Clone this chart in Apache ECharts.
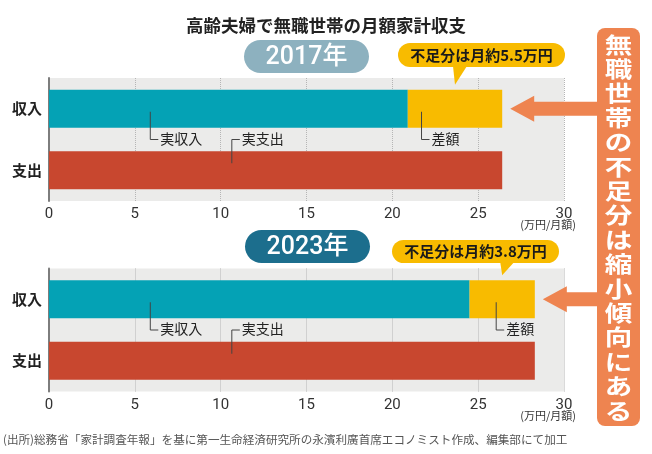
<!DOCTYPE html>
<html>
<head>
<meta charset="utf-8">
<title>高齢夫婦で無職世帯の月額家計収支</title>
<script src="https://cdn.jsdelivr.net/npm/echarts@6/dist/echarts.min.js"></script>
<style>
    html, body { margin: 0; padding: 0; background: #fff; }
    #chart { width: 652px; height: 454px; }
</style>
</head>
<body>
<div id="chart"></div>
<script>
    // 数値は 万円/月額
    var years = ['2017年', '2023年'];
    var categories = ['収入', '支出'];
    var actualIncome = [20.9, 24.5];     // 実収入
    var shortfall = [5.5, 3.8];          // 差額
    var actualSpending = [26.4, 28.3];   // 実支出
    var shortfallText = ['不足分は月約5.5万円', '不足分は月約3.8万円'];
    var xTicks = [0, 5, 10, 15, 20, 25, 30];
    // 引き出し線の位置（x軸の値）
    var noteIncomeX = [5.9, 5.9];
    var noteSpendX = [10.65, 10.65];
    var noteGapX = [21.7, 26.05];
    var headline = '無職世帯の不足分は縮小傾向にある';

    var FONT = "'Noto Sans CJK JP', sans-serif";
    var gridTops = [78, 268.5];
    var pillColors = ['#8db1bf', '#1c6e8d'];

    var myChart = echarts.init(document.getElementById('chart'));

    var grids = [], xAxes = [], yAxes = [], series = [];
    years.forEach(function (year, i) {
        grids.push({
            left: 49, width: 515, top: gridTops[i], height: 123,
            show: true, backgroundColor: '#ebebea', borderWidth: 0
        });
        xAxes.push({
            type: 'value', gridIndex: i,
            min: xTicks[0], max: xTicks[xTicks.length - 1], interval: xTicks[1] - xTicks[0],
            axisLine: {show: false},
            axisTick: {show: false},
            axisLabel: {color: '#333', fontSize: 15, fontFamily: 'Roboto', margin: 6},
            splitLine: {show: true, lineStyle: {color: '#b5b5b5', type: 'dotted', width: 1}}
        });
        yAxes.push({
            type: 'category', gridIndex: i, inverse: true,
            data: categories,
            axisLine: {show: true, lineStyle: {color: '#7d7d7d', width: 2}},
            axisTick: {show: false},
            axisLabel: {color: '#222', fontSize: 15, fontWeight: 'bold', fontFamily: FONT, margin: 7}
        });
        series.push({
            name: '実収入', type: 'bar', xAxisIndex: i, yAxisIndex: i, stack: 's' + i,
            barWidth: 38, itemStyle: {color: '#04a2b5'},
            data: [actualIncome[i], '-']
        });
        series.push({
            name: '差額', type: 'bar', xAxisIndex: i, yAxisIndex: i, stack: 's' + i,
            barWidth: 38, itemStyle: {color: '#f8bb00'},
            data: [shortfall[i], '-']
        });
        series.push({
            name: '実支出', type: 'bar', xAxisIndex: i, yAxisIndex: i, stack: 's' + i,
            barWidth: 38, itemStyle: {color: '#c8472f'},
            data: ['-', actualSpending[i]]
        });
    });

    myChart.setOption({
        animation: false,
        textStyle: {fontFamily: FONT},
        grid: grids,
        xAxis: xAxes,
        yAxis: yAxes,
        series: series
    });

    // 注記類は軸の座標から配置する
    function px(i, v, cat) {
        return myChart.convertToPixel({gridIndex: i}, [v, cat]);
    }
    function txt(x, y, s, size, color, weight, align, family) {
        return {
            type: 'text', x: x, y: y, z: 20,
            style: {text: s, fill: color, fontSize: size, fontWeight: weight || 'normal',
                fontFamily: family || FONT, align: align || 'center', verticalAlign: 'middle'}
        };
    }
    function leader(x, y1, y2, s) {
        return [
            {type: 'polyline', z: 20, shape: {points: [[x, y1], [x, y2], [x + 8, y2]]},
                style: {stroke: '#444', lineWidth: 1, fill: null}},
            txt(x + 10, y2 - 1, s, 14, '#222', 'normal', 'left')
        ];
    }

    var g = [];
    g.push(txt(326, 25, '高齢夫婦で無職世帯の月額家計収支', 17.5, '#222', 'bold'));

    var yearPills = [[244, 40, 125, 33], [245, 230, 125, 33]];
    var calloutPills = [[398, 43, 167, 24], [392, 240, 167, 23]];

    years.forEach(function (year, i) {
        var half = 19;
        var inc = px(i, 0, categories[0]);
        var spd = px(i, 0, categories[1]);
        var incY = inc[1], spdY = spd[1];
        var gapY = (incY + half + spdY - half) / 2;

        var yp = yearPills[i];
        g.push({type: 'rect', z: 15, shape: {x: yp[0], y: yp[1], width: yp[2], height: yp[3], r: yp[3] / 2},
            style: {fill: pillColors[i]}});
        g.push(txt(yp[0] + yp[2] / 2, yp[1] + yp[3] / 2 + 1, year, 25, '#fff', 500, 'center',
            "Roboto, 'Noto Sans CJK JP', sans-serif"));

        // 不足分の吹き出し
        var cp = calloutPills[i];
        var tip = px(i, actualIncome[i] + shortfall[i] / 2, categories[0]);
        var tipY = incY - half - 5;
        var baseY = cp[1] + cp[3] - 1;
        g.push({type: 'polygon', z: 15, shape: {points: [[tip[0] - 2, baseY], [tip[0] + 12, baseY], [tip[0], tipY]]},
            style: {fill: '#f8bb00'}});
        g.push({type: 'rect', z: 15, shape: {x: cp[0], y: cp[1], width: cp[2], height: cp[3], r: cp[3] / 2},
            style: {fill: '#f8bb00'}});
        g.push(txt(cp[0] + cp[2] / 2, cp[1] + cp[3] / 2, shortfallText[i], 15, '#1a1a1a', 'bold'));

        // 右の見出しからの矢印
        var end = px(i, actualSpending[i], categories[0]);
        var ax = end[0] + 8;
        g.push({type: 'polygon', z: 15, shape: {points: [
            [ax, incY], [ax + 24, incY - 13], [ax + 24, incY - 7], [600, incY - 7],
            [600, incY + 7], [ax + 24, incY + 7], [ax + 24, incY + 13]
        ]}, style: {fill: '#ee8450'}});

        // 引き出し線
        var a = px(i, noteIncomeX[i], categories[0])[0];
        var b = px(i, noteSpendX[i], categories[0])[0];
        var c = px(i, noteGapX[i], categories[0])[0];
        g = g.concat(leader(a, incY + 3, gapY, '実収入'));
        g = g.concat(leader(b, spdY - 7, gapY, '実支出'));
        g = g.concat(leader(c, incY + 3, gapY, '差額'));

        // 単位
        var unitY = gridTops[i] + 123 + 24;
        g.push(txt(576, unitY, '(万円/月額)', 11, '#333', 'normal', 'right'));
    });

    // 右の見出し
    g.push({type: 'rect', z: 15, shape: {x: 597, y: 28, width: 43, height: 398, r: 8},
        style: {fill: '#ee8450'}});
    g.push({
        type: 'text', z: 20, x: 618.5, y: 32, scaleX: 1.25,
        style: {text: headline.split('').join('\n'), fill: '#fff', fontSize: 22, lineHeight: 24.4,
            fontWeight: 'bold', fontFamily: FONT, align: 'center', verticalAlign: 'top'}
    });

    g.push(txt(3, 440, '(出所)総務省「家計調査年報」を基に第一生命経済研究所の永濱利廣首席エコノミスト作成、編集部にて加工',
        11.6, '#555', 'normal', 'left'));

    myChart.setOption({graphic: g});

    window.onresize = function () {
        myChart.resize();
    };
</script>
</body>
</html>
